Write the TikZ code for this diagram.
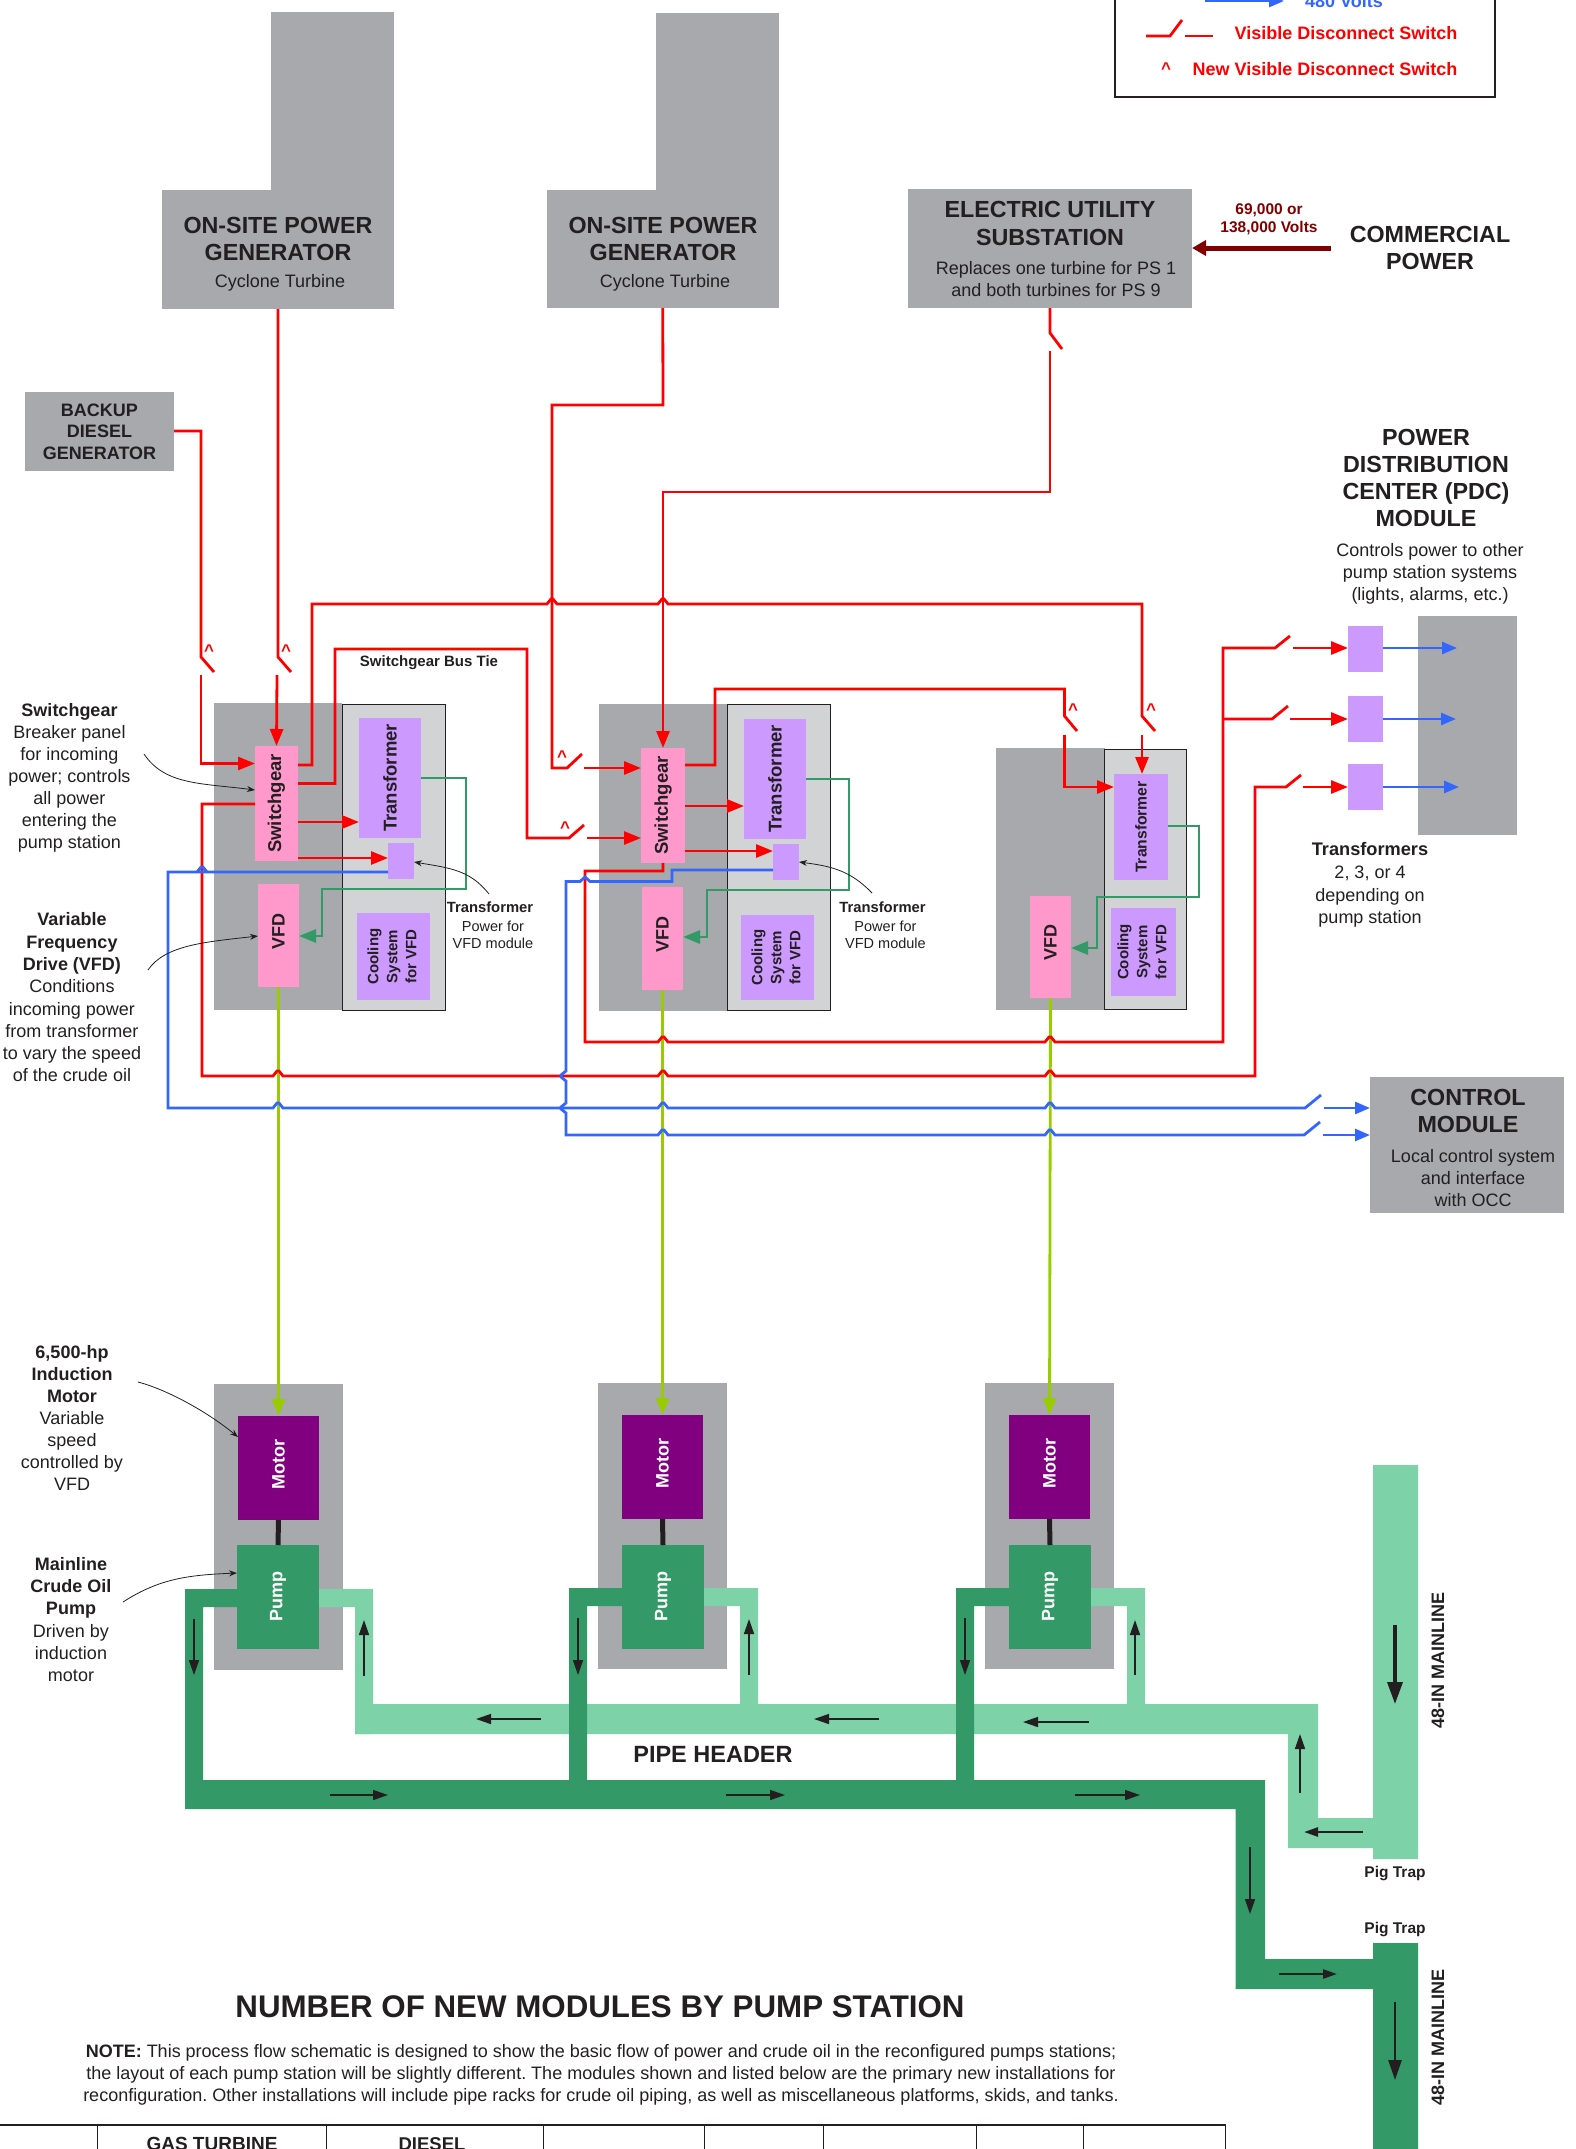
\documentclass[tikz,border=0pt]{standalone}
\usepackage{fontspec}
\usepackage{graphicx}
\setmainfont{Liberation Sans}
\frenchspacing
\usetikzlibrary{arrows.meta}
\definecolor{modgrey}{HTML}{A7A9AC}
\definecolor{ltgrey}{HTML}{D1D3D4}
\definecolor{pink}{HTML}{FF99CC}
\definecolor{lilac}{HTML}{CC99FF}
\definecolor{motorc}{HTML}{800080}
\definecolor{pumpc}{HTML}{339966}
\definecolor{ltpipe}{HTML}{7DD2A7}
\definecolor{wred}{HTML}{FF0000}
\definecolor{wblue}{HTML}{3366FF}
\definecolor{dred}{HTML}{800000}
\definecolor{lime}{HTML}{99CC00}
\definecolor{ink}{HTML}{231F20}
\newcommand\fs[2]{\fontsize{#1}{#2}\selectfont}
\newcommand\bx[7]{%
  \pgfmathsetmacro\bxcx{(#3+#5)/2}\pgfmathsetmacro\bxcy{(#4+#6)/2}%
  \pgfmathsetmacro\bxw{#5-#3}\pgfmathsetmacro\bxh{#6-#4}%
  \node[#2,minimum width=\bxw pt,minimum height=\bxh pt,inner sep=0pt,outer sep=0pt,text=ink,align=center] (#1) at (\bxcx,\bxcy) {#7};}
\newcommand\rot[3]{\rotatebox{90}{\raisebox{#2}{\hspace{#1}#3}}}
\newcommand\hj[2]{-- (#1-5,#2) -- (#1-1,#2-5) -- (#1+1,#2-5) -- (#1+5,#2)}
\newcommand\vj[2]{-- (#1,#2-5) -- (#1-5,#2-1) -- (#1-5,#2+1) -- (#1,#2+5)}
\newcommand\coolingtext{\begin{tabular}{@{}c@{}}Cooling\\System\\for VFD\end{tabular}}
\tikzset{
  gbox/.style={fill=modgrey},
  lbox/.style={fill=ltgrey,draw=ink,line width=0.8pt},
  sgbox/.style={fill=pink},
  trbox/.style={fill=lilac},
  mobox/.style={fill=motorc},
  pubox/.style={fill=pumpc},
  lab/.style={align=center,text=ink,inner sep=0pt},
  redw/.style={draw=wred,line width=2.8pt,line join=miter},
  redar/.style={redw,-{Triangle[length=17pt,width=13pt]}},
  bluew/.style={draw=wblue,line width=2.8pt,line join=miter},
  bluear/.style={bluew,-{Triangle[length=15pt,width=12pt]}},
  grnar/.style={draw=pumpc,line width=2.8pt,line join=miter,-{Triangle[length=17pt,width=13pt]}},
  limear/.style={draw=lime,line width=2.8pt,-{Triangle[length=17pt,width=13pt]}},
  note/.style={draw=ink,line width=0.8pt,-{Stealth[length=8pt,width=6pt]}},
  flow/.style={draw=ink,line width=1.5pt,-{Triangle[length=15pt,width=10pt]}},
  flowb/.style={draw=ink,line width=2.5pt,-{Triangle[length=14pt,width=9pt]}},
  flowc/.style={draw=ink,line width=3.5pt,-{Triangle[length=22pt,width=15pt]}},
  lpipe/.style={fill=ltpipe},
  dpipe/.style={fill=pumpc},
  legendln/.style={draw=ink,line width=1.5pt},
}
\begin{document}
\begin{tikzpicture}[x=1pt,y=-1pt]
\useasboundingbox (0,0) rectangle (1575,2149);
% legend
\draw[legendln,fill=white] (1115,-20) -- (1115,97) -- (1495,97) -- (1495,-20);
\coordinate (lga) at (1205,1); \coordinate (lgb) at (1284,1);
\draw[bluear] (lga) -- (lgb);
\node[lab,text=wblue,font=\fs{18}{22}\bfseries] (lg480) at (1344,1) {480 Volts};
\coordinate (lsa) at (1146,36); \coordinate (lsb) at (1170,36); \coordinate (lsc) at (1182,20);
\coordinate (lsd) at (1185,36); \coordinate (lse) at (1213,36);
\draw[redw] (lsa) -- (lsb) -- (lsc);
\draw[redw] (lsd) -- (lse);
\node[lab,text=wred,font=\fs{18}{21}\bfseries] (lgvis) at (1346,33) {Visible Disconnect Switch};
\node[lab,text=wred,font=\fs{17}{18}\bfseries] (lgcar) at (1166,69) {\^{}};
\node[lab,text=wred,font=\fs{18}{21}\bfseries] (lgnew) at (1325,69) {New Visible Disconnect Switch};
% generators
\fill[modgrey] (271,12) rectangle (394,195);
\bx{gen1}{gbox}{162}{190}{394}{309}{}
\fill[modgrey] (656,13.5) rectangle (778.5,195);
\bx{gen2}{gbox}{547}{190}{778.5}{308}{}
\node[lab,font=\fs{23.3}{27}\bfseries] (g1t) at (278,239) {ON-SITE POWER\\GENERATOR};
\node[lab,font=\fs{18}{22}] (g1s) at (280,282.5) {Cyclone Turbine};
\node[lab,font=\fs{23.3}{27}\bfseries] (g2t) at (663,239) {ON-SITE POWER\\GENERATOR};
\node[lab,font=\fs{18}{22}] (g2s) at (665,282.5) {Cyclone Turbine};
\bx{subst}{gbox}{908}{189}{1192}{308}{}
\node[lab,font=\fs{23.3}{28}\bfseries] (sbt) at (1050,223.5) {ELECTRIC UTILITY\\SUBSTATION};
\node[lab,font=\fs{18}{22}] (sbs) at (1056,279) {Replaces one turbine for PS 1\\and both turbines for PS 9};
\node[lab,text=dred,font=\fs{15.5}{18}\bfseries] (volts) at (1269,219) {69,000 or\\138,000 Volts};
\node[lab,font=\fs{23.3}{27}\bfseries] (comm) at (1430,248) {COMMERCIAL\\POWER};
\coordinate (commend) at (1331,248);
\draw[draw=dred,line width=5pt,-{Triangle[length=14pt,width=15pt]}] (commend) -- (subst.east |- commend);
\bx{backup}{gbox}{25}{392}{174}{471}{}
\node[lab,font=\fs{18}{21.7}\bfseries] (bkt) at (99.5,431.5) {BACKUP\\DIESEL\\GENERATOR};
% modules
\bx{mod1}{gbox}{214}{703}{342}{1010}{}
\bx{lt1}{lbox}{342}{704}{445}{1010}{}
\bx{mod2}{gbox}{599}{704}{727}{1011}{}
\bx{lt2}{lbox}{727}{704}{830}{1010}{}
\bx{mod3}{gbox}{996}{748}{1104.5}{1010}{}
\bx{lt3}{lbox}{1104.5}{749}{1186}{1009}{}
% module 1 contents
\bx{sg1}{sgbox}{255}{746}{298}{861}{\rot{0pt}{-1pt}{\fs{18.5}{20}\bfseries Switchgear}}
\bx{tf1}{trbox}{359}{718}{421}{838}{\rot{0pt}{0pt}{\fs{18.5}{22}\bfseries Transformer}}
\bx{sm1}{trbox}{388}{843}{414}{879}{}
\bx{vfd1}{sgbox}{258}{884}{299}{987}{\rot{9pt}{0pt}{\fs{18}{20}\bfseries VFD}}
\bx{cl1}{trbox}{357}{913}{430}{1000}{\rot{0pt}{-1pt}{\fs{15}{19}\bfseries\coolingtext}}
% module 2
\bx{sg2}{sgbox}{641}{748}{685}{863}{\rot{0pt}{-3pt}{\fs{18.5}{20}\bfseries Switchgear}}
\bx{tf2}{trbox}{744}{719}{806}{839}{\rot{0pt}{0pt}{\fs{18.5}{22}\bfseries Transformer}}
\bx{sm2}{trbox}{773}{844}{799}{880}{}
\bx{vfd2}{sgbox}{642}{887}{683}{990}{\rot{9pt}{-3pt}{\fs{18}{20}\bfseries VFD}}
\bx{cl2}{trbox}{741}{915}{814}{1000}{\rot{0pt}{-1pt}{\fs{15}{19}\bfseries\coolingtext}}
% module 3
\bx{tf3}{trbox}{1114}{774}{1168}{880}{\rot{0pt}{0pt}{\fs{15.7}{20}\bfseries Transformer}}
\bx{vfd3}{sgbox}{1030}{896}{1071}{998}{\rot{9pt}{0pt}{\fs{18}{20}\bfseries VFD}}
\bx{cl3}{trbox}{1111}{908}{1176}{996}{\rot{0pt}{-3pt}{\fs{15}{19}\bfseries\coolingtext}}
% PDC
\bx{pdc}{gbox}{1418}{616}{1517}{835}{}
\bx{pt1}{trbox}{1348}{626}{1383}{672}{}
\bx{pt2}{trbox}{1348}{696}{1383}{742}{}
\bx{pt3}{trbox}{1348}{764}{1383}{810}{}
\node[lab,font=\fs{23.3}{27}\bfseries] (pdct) at (1426,478) {POWER\\DISTRIBUTION\\CENTER (PDC)\\MODULE};
\node[lab,font=\fs{18}{22}] (pdcs) at (1430,573.5) {Controls power to other\\pump station systems\\(lights, alarms, etc.)};
\node[lab,font=\fs{18.2}{22}\bfseries] (trl) at (1370,849) {Transformers};
\node[lab,font=\fs{18}{22.5}] (trs) at (1370,897) {2, 3, or 4\\depending on\\pump station};
% control
\bx{ctrl}{gbox}{1370}{1077}{1564}{1213}{}
\node[lab,font=\fs{23.3}{26.5}\bfseries] (ctt) at (1468,1111) {CONTROL\\MODULE};
\node[lab,font=\fs{18}{22}] (cts) at (1473,1178) {Local control system\\and interface\\with OCC};
% motor modules
\bx{mm1}{gbox}{214}{1384}{343}{1670}{}
\bx{mm2}{gbox}{598}{1383}{727}{1669}{}
\bx{mm3}{gbox}{985}{1383}{1114}{1669}{}
\bx{mot1}{mobox}{238}{1416}{319}{1520}{\rot{8pt}{0pt}{\color{white}\fs{18}{20}\bfseries Motor}}
\bx{mot2}{mobox}{622}{1415}{703}{1519}{\rot{8pt}{0pt}{\color{white}\fs{18}{20}\bfseries Motor}}
\bx{mot3}{mobox}{1009}{1415}{1090}{1519}{\rot{8pt}{0pt}{\color{white}\fs{18}{20}\bfseries Motor}}
% light pipes
\fill[lpipe] (319,1589) rectangle (373,1607) (355,1589) rectangle (373,1734);
\fill[lpipe] (704,1588) rectangle (758,1606) (740,1588) rectangle (758,1704);
\fill[lpipe] (1091,1588) rectangle (1145,1606) (1127,1588) rectangle (1145,1704);
\fill[lpipe] (355,1704) rectangle (1318,1734) (1288,1704) rectangle (1318,1848) (1288,1818) rectangle (1373,1848) (1373,1465) rectangle (1418,1859);
% dark pipes
\fill[dpipe] (185,1589) rectangle (237,1607) (185,1589) rectangle (203,1809) (185,1780) rectangle (1265,1809) (1235.5,1780) rectangle (1265,1989) (1235.5,1959) rectangle (1373,1989) (1373,1943) rectangle (1418,2160);
\fill[dpipe] (569,1588) rectangle (622,1606) (569,1588) rectangle (587,1780);
\fill[dpipe] (956,1588) rectangle (1009,1606) (956,1588) rectangle (974,1780);
\bx{pu1}{pubox}{237}{1545}{319}{1649}{\rot{2pt}{-1pt}{\color{white}\fs{18}{20}\bfseries Pump}}
\bx{pu2}{pubox}{622}{1545}{704}{1649}{\rot{2pt}{0pt}{\color{white}\fs{18}{20}\bfseries Pump}}
\bx{pu3}{pubox}{1009}{1545}{1091}{1649}{\rot{2pt}{0pt}{\color{white}\fs{18}{20}\bfseries Pump}}
\draw[draw=ink,line width=5pt] (mot1.south) -- (pu1.north);
\draw[draw=ink,line width=5pt] (mot2.south) -- (pu2.north);
\draw[draw=ink,line width=5pt] (mot3.south) -- (pu3.north);
% flow arrows
\foreach \nm/\xa/\ya/\xb/\yb in {f1/194/1619/194/1675,f2/364/1676/364/1620,f3/541/1719/476/1719,f4/330/1795/388/1795,f5/578/1618/578/1675,f6/749/1675/749/1619,f7/726/1795/785/1795,f8/879/1719/814/1719,f9/1089/1722/1023/1722,f10/1075/1795/1140/1795,f11/965/1618/965/1675,f12/1135/1675/1135/1620,f13/1300/1793/1300/1734,f14/1250/1847/1250/1914}{
  \coordinate (\nm a) at (\xa,\ya); \coordinate (\nm b) at (\xb,\yb);
  \draw[flow] (\nm a) -- (\nm b);
}
\coordinate (f15a) at (1363,1832); \coordinate (f15b) at (1304,1832); \draw[flowb] (f15a) -- (f15b);
\coordinate (f16a) at (1279,1974); \coordinate (f16b) at (1337,1974); \draw[flowb] (f16a) -- (f16b);
\coordinate (f17a) at (1395,2002); \coordinate (f17b) at (1395,2080); \draw[draw=ink,line width=2.5pt,-{Triangle[length=20pt,width=13pt]}] (f17a) -- (f17b);
\coordinate (f18a) at (1395,1625); \coordinate (f18b) at (1395,1704); \draw[flowc] (f18a) -- (f18b);
% lime
\draw[limear] (vfd1.south) -- (mot1.north);
\draw[limear] (vfd2.south) -- (mot2.north);
\draw[limear] (vfd3.south) -- (mot3.north);
% red wires
\draw[redw] (backup.east |- 0,431) -- (201,431) -- (201,657) -- (214,672);
\coordinate (bk2) at (201,675);
\draw[redar] (bk2) -- (201,763.5) -- (sg1.west |- 0,763.5);
\draw[redw] (gen1.south) -- (278,657) -- (291,672);
\coordinate (g1b) at (277,675);
\draw[redar] (g1b) -- (sg1.north);
\draw[redw] (gen2.south) -- (663,405) -- (552,405) -- (552,768) -- (567,768) -- (582,754);
\coordinate (g2b) at (584,768);
\draw[redar] (g2b) -- (sg2.west |- g2b);
\draw[redw] (subst.south) -- (1050,333) -- (1062,349);
\coordinate (sbb) at (1050,351);
\draw[redar] (sbb) -- (1050,492) -- (663,492) -- (sg2.north);
\draw[redw] (sg1.east |- 0,765) -- (312,765) -- (312,604) \hj{552}{604} \hj{663}{604} -- (1142,604) -- (1142,716) -- (1155,731);
\coordinate (t3a) at (1142,735);
\draw[redar] (t3a) -- (tf3.north -| t3a);
\draw[redw] (sg1.east |- 0,783.5) -- (335,783.5) -- (335,649) -- (527,649) -- (527,838) -- (569,838) -- (584,825);
\coordinate (bt) at (587,838);
\draw[redar] (bt) -- (sg2.west |- bt);
\draw[redar] (sg1.east |- 0,822) -- (tf1.west |- 0,822);
\draw[redar] (sg1.east |- 0,858) -- (sm1.west |- 0,858);
\draw[redw] (sg1.west |- 0,804) -- (202,804) -- (202,1076) \hj{278}{1076} \hj{663}{1076} \hj{1050}{1076} -- (1255,1076) -- (1255,787) -- (1286,787) -- (1301,775);
\coordinate (p3a) at (1303,787);
\draw[redar] (p3a) -- (pt3.west |- p3a);
\draw[redw] (sg2.east |- 0,765) -- (715,765) -- (715,689) -- (1064.5,689) -- (1064.5,716) -- (1077,731);
\coordinate (t3b) at (1064.5,735);
\draw[redar] (t3b) -- (1064.5,787) -- (tf3.west |- 0,787);
\draw[redar] (sg2.east |- 0,806) -- (tf2.west |- 0,806);
\draw[redar] (sg2.east |- 0,851) -- (sm2.west |- 0,851);
\draw[redw] (sg2.south) -- (663,871) -- (585,871) -- (585,1042) \hj{663}{1042} \hj{1050}{1042} -- (1223,1042) -- (1223,648) -- (1275,648) -- (1290,636);
\coordinate (p1a) at (1293,648);
\draw[redar] (p1a) -- (pt1.west |- p1a);
\coordinate (brn) at (1223,719);
\draw[redw] (brn) -- (1272,719) -- (1288,706);
\coordinate (p2a) at (1290,719);
\draw[redar] (p2a) -- (pt2.west |- p2a);
% carets
\foreach \nm/\xa/\ya in {c1/209/651,c2/286/651,c3/562/757,c4/565/828,c5/1073/710,c6/1151/710}{
  \node[lab,text=wred,font=\fs{17}{18}\bfseries] (\nm) at (\xa,\ya) {\^{}};
}
% blue wires
\draw[bluew] (sm1.west |- 0,872) \hj{202}{872} -- (168,872) -- (168,1108) \hj{278}{1108} -- (566,1108) \hj{663}{1108} \hj{1050}{1108} -- (1305,1108) -- (1321,1095);
\coordinate (c1a) at (1324,1108);
\draw[bluear] (c1a) -- (ctrl.west |- c1a);
\draw[bluew] (sm2.west |- 0,870) -- (672,870) -- (672,881.5) -- (590,881.5) -- (585,877) -- (580,881.5) -- (566,881.5) \vj{566}{1076} \vj{566}{1108} -- (566,1135) \hj{663}{1135} \hj{1050}{1135} -- (1304,1135) -- (1320,1122);
\coordinate (c2a) at (1323,1135);
\draw[bluear] (c2a) -- (ctrl.west |- c2a);
\draw[bluear] (pt1.east |- 0,648) -- (1457,648);
\draw[bluear] (pt2.east |- 0,719) -- (1456,719);
\draw[bluear] (pt3.east |- 0,787) -- (1459,787);
% green
\draw[grnar] (tf1.east |- 0,778) -- (466,778) -- (466,889) -- (322,889) -- (322,936) -- (vfd1.east |- 0,936);
\draw[grnar] (tf2.east |- 0,779) -- (849,779) -- (849,890) -- (707,890) -- (707,937) -- (vfd2.east |- 0,937);
\draw[grnar] (tf3.east |- 0,826) -- (1199,826) -- (1199,897) -- (1097,897) -- (1097,948) -- (vfd3.east |- 0,948);
% left labels
\node[lab,font=\fs{18}{22}] (lbsg) at (69.5,777.5) {{\bfseries Switchgear}\\Breaker panel\\for incoming\\power; controls\\all power\\entering the\\pump station};
\node[lab,font=\fs{18}{22.3}] (lbvfd) at (72,997.5) {{\bfseries Variable}\\{\bfseries Frequency}\\{\bfseries Drive (VFD)}\\Conditions\\incoming power\\from transformer\\to vary the speed\\of the crude oil};
\node[lab,font=\fs{18}{22}] (lbmot) at (72,1417.5) {{\bfseries 6,500-hp}\\{\bfseries Induction}\\{\bfseries Motor}\\Variable\\speed\\controlled by\\VFD};
\node[lab,font=\fs{18}{22.2}] (lbpu) at (71,1619.5) {{\bfseries Mainline}\\{\bfseries Crude Oil}\\{\bfseries Pump}\\Driven by\\induction\\motor};
\node[lab,font=\fs{15}{18}\bfseries] (lbbus) at (429,662.5) {Switchgear Bus Tie};
\node[lab,font=\fs{14.8}{18}\bfseries] (tl1a) at (490,907.5) {Transformer};
\node[lab,font=\fs{14.5}{17}] (tl1b) at (493,934.5) {Power for\\VFD module};
\node[lab,font=\fs{14.8}{18}\bfseries] (tl2a) at (882.5,907) {Transformer};
\node[lab,font=\fs{14.5}{17}] (tl2b) at (885.5,934.5) {Power for\\VFD module};
\coordinate (na1) at (144,754); \draw[note] (na1) .. controls (165,785) and (200,783) .. (sg1.west |- 0,790);
\coordinate (na2) at (148,970); \draw[note] (na2) .. controls (165,945) and (205,942) .. (vfd1.west |- 0,936);
\coordinate (na3) at (489,894); \draw[note] (na3) .. controls (470,870) and (450,868) .. (sm1.east |- 0,862);
\coordinate (na4) at (872,893); \draw[note] (na4) .. controls (850,870) and (830,866) .. (sm2.east |- 0,862);
\coordinate (na5) at (138,1382); \draw[note] (na5) .. controls (165,1389) and (205,1410) .. (mot1.west |- 0,1437);
\coordinate (na6) at (123,1602); \draw[note] (na6) .. controls (160,1578) and (190,1575) .. (pu1.west |- 0,1573);
% pipe labels
\node[lab,font=\fs{23.5}{27}\bfseries] (phd) at (713,1754) {PIPE HEADER};
\node[lab,font=\fs{18}{20}\bfseries] (ml1) at (1438,1660) {\rotatebox{90}{48-IN MAINLINE}};
\node[lab,font=\fs{18}{20}\bfseries] (ml2) at (1438,2037) {\rotatebox{90}{48-IN MAINLINE}};
\node[lab,font=\fs{15.5}{18}\bfseries] (pg1) at (1395,1874) {Pig Trap};
\node[lab,font=\fs{15.5}{18}\bfseries] (pg2) at (1395,1930) {Pig Trap};
% title and note
\node[lab,font=\fs{31.3}{36}\bfseries] (ttl) at (600,2007) {NUMBER OF NEW MODULES BY PUMP STATION};
\node[lab,font=\fs{18}{22}] (nt) at (601,2075) {{\bfseries NOTE:} This process flow schematic is designed to show the basic flow of power and crude oil in the reconfigured pumps stations;\\the layout of each pump station will be slightly different. The modules shown and listed below are the primary new installations for\\reconfiguration. Other installations will include pipe racks for crude oil piping, as well as miscellaneous platforms, skids, and tanks.};
% table
\coordinate (tba) at (0,2125); \coordinate (tbb) at (1226,2125);
\draw[draw=ink,line width=2.5pt] (tba) -- (tbb);
\foreach \nm/\xa in {v1/97.5,v2/326.5,v3/543.5,v4/704,v5/823,v6/976,v7/1083,v8/1225.5}{
  \coordinate (\nm) at (\xa,2125); \draw[draw=ink,line width=1pt] (\nm) -- ++(0,30);
}
\node[lab,font=\fs{19}{22}\bfseries] (tga) at (212,2144) {GAS TURBINE};
\node[lab,font=\fs{18.5}{22}\bfseries] (tdi) at (432,2144) {DIESEL};
\end{tikzpicture}
\end{document}
